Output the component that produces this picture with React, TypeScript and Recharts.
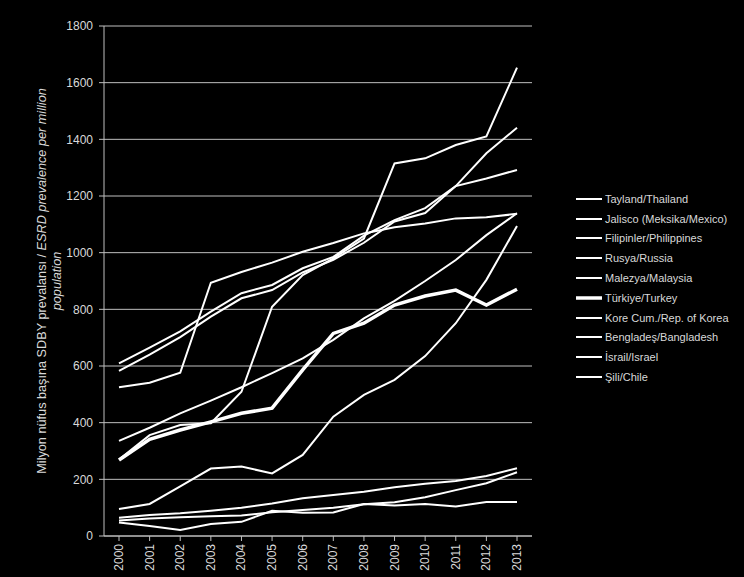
import React from 'react';
import { LineChart, Line, XAxis, YAxis, CartesianGrid, Legend } from 'recharts';

const years = ['2000', '2001', '2002', '2003', '2004', '2005', '2006', '2007', '2008', '2009', '2010', '2011', '2012', '2013'];
const yTicks = [0, 200, 400, 600, 800, 1000, 1200, 1400, 1600, 1800];

const thailand = [95, 113, 175, 238, 245, 221, 286, 421, 498, 551, 635, 751, 904, 1094];
const jalisco = [270, 356, 392, 398, 509, 809, 921, 980, 1050, 1315, 1333, 1380, 1410, 1653];
const philippines = [55, 62, 66, 70, 72, 84, 92, 100, 112, 119, 137, 162, 186, 225];
const russia = [64, 74, 80, 89, 100, 115, 133, 145, 156, 172, 184, 194, 212, 239];
const malaysia = [336, 382, 433, 478, 525, 575, 627, 692, 768, 830, 900, 974, 1062, 1139];
const turkey = [268, 341, 374, 403, 433, 451, 586, 715, 751, 815, 847, 868, 815, 871];
const korea = [609, 665, 722, 792, 857, 886, 945, 985, 1060, 1115, 1157, 1235, 1351, 1441];
const bangladesh = [48, 35, 21, 42, 50, 89, 82, 83, 113, 108, 113, 104, 120, 120];
const israel = [525, 541, 576, 894, 932, 965, 1003, 1034, 1068, 1090, 1103, 1121, 1125, 1137];
const chile = [583, 640, 702, 774, 839, 868, 930, 975, 1035, 1110, 1140, 1235, 1262, 1292];

const seriesNames = [
  'Tayland/Thailand',
  'Jalisco (Meksika/Mexico)',
  'Filipinler/Philippines',
  'Rusya/Russia',
  'Malezya/Malaysia',
  'Türkiye/Turkey',
  'Kore Cum./Rep. of Korea',
  'Bengladeş/Bangladesh',
  'İsrail/Israel',
  'Şili/Chile',
];
const seriesValues = [thailand, jalisco, philippines, russia, malaysia, turkey, korea, bangladesh, israel, chile];
const thickIndex = 5;

const data = years.map((year, i) => {
  const row: Record<string, any> = { year };
  seriesValues.forEach((vals, k) => {
    row['s' + k] = vals[i];
  });
  return row;
});

const FONT = '"Liberation Sans", Arial, sans-serif';
const LABEL_COLOR = '#d9d9d9';
const GRID_COLOR = '#bfbfbf';

const XTick = (props: any) => {
  const { x, y, payload } = props;
  return (
    <text
      x={x}
      y={y}
      transform={`rotate(-90 ${x} ${y})`}
      textAnchor="end"
      dominantBaseline="central"
      fill={LABEL_COLOR}
      fontSize={12}
      fontFamily={FONT}
    >
      {payload.value}
    </text>
  );
};

const YLabel = (props: any) => {
  const vb = props.viewBox || { x: 0, y: 26, width: 104, height: 510 };
  const cy = vb.y + vb.height / 2;
  const x1 = vb.x + 42;
  const x2 = vb.x + 57;
  return (
    <g>
      <text
        x={x1}
        y={cy}
        transform={`rotate(-90 ${x1} ${cy})`}
        textAnchor="middle"
        dominantBaseline="central"
        fill={LABEL_COLOR}
        fontSize={12.7}
        fontFamily={FONT}
      >
        <tspan>Milyon nüfus başına SDBY prevalansı / </tspan>
        <tspan fontStyle="italic">ESRD prevalence per million</tspan>
      </text>
      <text
        x={x2}
        y={cy}
        transform={`rotate(-90 ${x2} ${cy})`}
        textAnchor="middle"
        dominantBaseline="central"
        fill={LABEL_COLOR}
        fontSize={12.7}
        fontStyle="italic"
        fontFamily={FONT}
      >
        population
      </text>
    </g>
  );
};

const renderLegend = () => (
  <div style={{ fontFamily: FONT, fontSize: 11, color: LABEL_COLOR }}>
    {seriesNames.map((name, i) => (
      <div key={name} style={{ height: 19.8, display: 'flex', alignItems: 'center', whiteSpace: 'nowrap' }}>
        <svg width={29} height={8} style={{ display: 'block' }}>
          <line x1={0} y1={4} x2={26} y2={4} stroke="#ffffff" strokeWidth={i === thickIndex ? 3.5 : 2} />
        </svg>
        <span>{name}</span>
      </div>
    ))}
  </div>
);

export default function App() {
  return (
    <div style={{ width: 744, height: 577, background: '#000', position: 'relative' }}>
      <style>{`body{margin:0;background:#000;}`}</style>
      <LineChart
        width={744}
        height={577}
        data={data}
        margin={{ top: 26, right: 212, bottom: 0, left: 0 }}
        style={{ background: '#000' }}
      >
        <CartesianGrid horizontal vertical={false} stroke={GRID_COLOR} strokeWidth={1} />
        <XAxis
          dataKey="year"
          type="category"
          height={41}
          padding={{ left: 15, right: 15 }}
          interval={0}
          tick={<XTick />}
          tickSize={5}
          tickMargin={3}
          stroke={GRID_COLOR}
          tickLine={{ stroke: GRID_COLOR }}
          axisLine={{ stroke: GRID_COLOR }}
        />
        <YAxis
          width={104}
          domain={[0, 1800]}
          ticks={yTicks}
          interval={0}
          tickSize={5}
          tickMargin={6}
          stroke={GRID_COLOR}
          tick={{ fill: LABEL_COLOR, fontSize: 12, fontFamily: FONT }}
          label={<YLabel />}
        />
        <Legend
          layout="vertical"
          align="center"
          verticalAlign="middle"
          content={renderLegend}
          wrapperStyle={{ position: 'absolute', left: 576, top: 189, width: 165, height: 200 }}
        />
        {seriesNames.map((name, k) => (
          <Line
            key={name}
            type="linear"
            dataKey={'s' + k}
            name={name}
            stroke="#ffffff"
            strokeWidth={k === thickIndex ? 3.5 : 2}
            dot={false}
            activeDot={false}
            isAnimationActive={false}
          />
        ))}
      </LineChart>
    </div>
  );
}
